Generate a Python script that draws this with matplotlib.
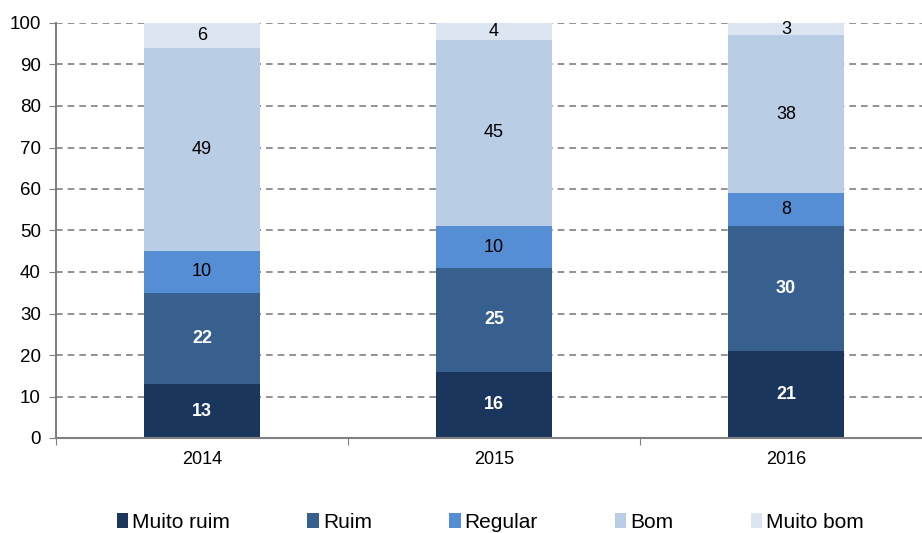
import matplotlib.pyplot as plt
import numpy as np

plt.rcParams['font.family'] = ['Liberation Sans', 'DejaVu Sans']

years = ['2014', '2015', '2016']
categories = ['Muito ruim', 'Ruim', 'Regular', 'Bom', 'Muito bom']
muito_ruim = [13, 16, 21]
ruim = [22, 25, 30]
regular = [10, 10, 8]
bom = [49, 45, 38]
muito_bom = [6, 4, 3]

colors = ['#1b365d', '#37608f', '#558ed5', '#b9cde5', '#dce6f2']
label_colors = ['white', 'white', 'black', 'black', 'black']
label_weights = ['bold', 'bold', 'normal', 'normal', 'normal']

fig = plt.figure(figsize=(9.22, 5.33), dpi=100)
ax = fig.add_axes([56 / 922, 1 - 438 / 533, (932 - 56) / 922, (438 - 23) / 533])

x = np.arange(len(years))
bottom = np.zeros(len(years))
series = [muito_ruim, ruim, regular, bom, muito_bom]
for vals, name, col, lc, lw in zip(series, categories, colors, label_colors, label_weights):
    bars = ax.bar(x, vals, 0.395, bottom=bottom, color=col, label=name, zorder=2)
    for xi, v, b in zip(x, vals, bottom):
        ax.text(xi, b + v / 2, str(v), ha='center', va='center', color=lc,
                fontweight=lw, fontsize=13, zorder=3)
    bottom += np.array(vals)

ax.set_xlim(-0.5, 2.5)
ax.set_ylim(0, 100)
ax.set_yticks(range(0, 101, 10))
ax.tick_params(axis='y', labelsize=13.5, length=5, color='#808080', pad=6)
ax.set_xticks([-0.5, 0.5, 1.5], minor=False)
ax.set_xticklabels([])
ax.set_xticks(x, minor=True)
ax.set_xticklabels(years, minor=True)
ax.tick_params(axis='x', which='major', length=5, color='#808080', direction='out')
ax.tick_params(axis='x', which='minor', length=0, labelsize=13, pad=9)

ax.yaxis.grid(True, linestyle=(0, (4, 3)), color='#808080', linewidth=1.2, zorder=0)
ax.set_axisbelow(True)
for s in ['top', 'right']:
    ax.spines[s].set_visible(False)
for s in ['left', 'bottom']:
    ax.spines[s].set_color('#808080')
    ax.spines[s].set_linewidth(1.5)

fig.legend(loc='center', bbox_to_anchor=(0.532, 1 - 522 / 533), ncol=5, frameon=False,
           fontsize=15, handlelength=0.55, handleheight=0.75, handletextpad=0.2,
           columnspacing=3.7, borderaxespad=0)

fig.savefig('out.png', dpi=100)
